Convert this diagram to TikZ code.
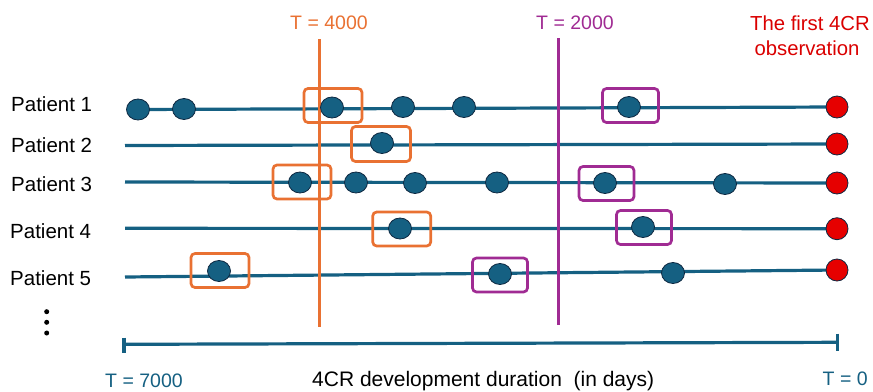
\documentclass[tikz,border=0pt]{standalone}
\usepackage{fontspec}
\setmainfont{Liberation Sans}
\usetikzlibrary{shapes.geometric}
\definecolor{tblue}{HTML}{156082}
\definecolor{tdark}{HTML}{0E2841}
\definecolor{torange}{HTML}{E97132}
\definecolor{tpurple}{HTML}{A02B93}
\definecolor{tred}{HTML}{E60000}
\definecolor{ttext}{HTML}{DA0000}
\begin{document}
\begin{tikzpicture}[x=1pt,y=-1pt,
  lbl/.style={anchor=base west,inner sep=0pt,font=\fontsize{19.5}{23}\selectfont},
  plbl/.style={anchor=base west,inner sep=0pt,font=\fontsize{20.5}{24}\selectfont},
  tline/.style={draw=tblue,line width=3.2pt},
  vline/.style={line width=3pt},
  bdot/.style={ellipse,draw=tdark,line width=0.8pt,fill=tblue,minimum width=23pt,minimum height=21pt,inner sep=0pt},
  rdot/.style={circle,draw=tdark,line width=0.8pt,fill=tred,minimum size=22pt,inner sep=0pt},
  obox/.style={draw=torange,line width=2.7pt,rounded corners=4pt,minimum width=58pt,minimum height=34pt,inner sep=0pt},
  pbox/.style={draw=tpurple,line width=2.7pt,rounded corners=4pt,minimum width=55pt,minimum height=34pt,inner sep=0pt},
  vdot/.style={circle,fill=black,minimum size=5pt,inner sep=0pt}]
\useasboundingbox (0,0) rectangle (873,391);

% patient labels
\node[plbl] (lab1) at (11,111.7) {Patient 1};
\node[plbl] (lab2) at (11,152.7) {Patient 2};
\node[plbl] (lab3) at (11,191.7) {Patient 3};
\node[plbl] (lab4) at (10,238.5) {Patient 4};
\node[plbl] (lab5) at (10,285.5) {Patient 5};

% line start coordinates
\coordinate (s2) at (125,145.5);
\coordinate (s3) at (125,182);
\coordinate (s4) at (125,228.3);
\coordinate (s5) at (125,277);

% red end dots (positions)
\coordinate (r1c) at (837,107);
\coordinate (r2c) at (837,144);
\coordinate (r3c) at (837,183);
\coordinate (r4c) at (837,228.7);
\coordinate (r5c) at (837,270);

% timelines
\coordinate (d11c) at (138,109.5);
\draw[tline] (d11c) -- (r1c);
\draw[tline] (s2) -- (r2c);
\draw[tline] (s3) -- (r3c);
\draw[tline] (s4) -- (r4c);
\draw[tline] (s5) -- (r5c);

% vertical thresholds
\coordinate (o1) at (319,39);
\coordinate (o2) at (319,327);
\coordinate (q1) at (558.7,38);
\coordinate (q2) at (558.7,325);
\draw[vline,draw=torange] (o1) -- (o2);
\draw[vline,draw=tpurple] (q1) -- (q2);

% boxes
\node[obox] (b1o) at (333,105.5) {};
\node[pbox,minimum width=56pt] (b1p) at (630.5,105.5) {};
\node[obox,minimum width=59pt,minimum height=35pt] (b2o) at (381,144) {};
\node[obox] (b3o) at (302,182) {};
\node[pbox] (b3p) at (606.5,183.5) {};
\node[obox] (b4o) at (401.7,229) {};
\node[pbox] (b4p) at (644,227.5) {};
\node[obox] (b5o) at (220,270.5) {};
\node[pbox] (b5p) at (500,275) {};

% blue dots
\node[bdot] (d11) at (d11c) {};
\node[bdot] (d12) at (184,109) {};
\node[bdot] (d13) at (332,107.5) {};
\node[bdot] (d14) at (403,107) {};
\node[bdot] (d15) at (464,107) {};
\node[bdot] (d16) at (629,107) {};
\node[bdot] (d21) at (382,143) {};
\node[bdot] (d31) at (300,182.5) {};
\node[bdot] (d32) at (356,182.5) {};
\node[bdot] (d33) at (415,183) {};
\node[bdot] (d34) at (497,182.5) {};
\node[bdot] (d35) at (605,183) {};
\node[bdot] (d36) at (725,184) {};
\node[bdot] (d41) at (400,228.5) {};
\node[bdot] (d42) at (643,227) {};
\node[bdot] (d51) at (219,271) {};
\node[bdot] (d52) at (500,274) {};
\node[bdot] (d53) at (673,273) {};

% red dots
\node[rdot] (r1) at (r1c) {};
\node[rdot] (r2) at (r2c) {};
\node[rdot] (r3) at (r3c) {};
\node[rdot] (r4) at (r4c) {};
\node[rdot] (r5) at (r5c) {};

% vertical ellipsis
\node[vdot] (v1) at (46.7,311.7) {};
\node[vdot] (v2) at (46.7,322.3) {};
\node[vdot] (v3) at (46.7,333) {};

% axis
\coordinate (a1) at (124,344.3);
\coordinate (a2) at (837.7,342.3);
\draw[tline] (a1) -- (a2);
\draw[tline] (124,337.5) -- (124,353);
\draw[tline] (837.7,333.5) -- (837.7,350.5);

% top labels
\node[lbl,text=torange] (t4000) at (290,29) {T = 4000};
\node[lbl,text=tpurple] (t2000) at (536,29) {T = 2000};
\node[anchor=base,inner sep=0pt,text=ttext,font=\fontsize{20.3}{24}\selectfont] (tfirst) at (810,30) {The first 4CR};
\node[anchor=base,inner sep=0pt,text=ttext,font=\fontsize{20.3}{24}\selectfont] (tobs) at (807,55) {observation};

% bottom labels
\node[lbl,text=tblue] (t7000) at (105,387.5) {T = 7000};
\node[lbl,font=\fontsize{21}{24}\selectfont] (tdur) at (312,386.5) {4CR development duration\ \ (in days)};
\node[lbl,text=tblue] (t0) at (822.5,385) {T = 0};
\end{tikzpicture}
\end{document}
